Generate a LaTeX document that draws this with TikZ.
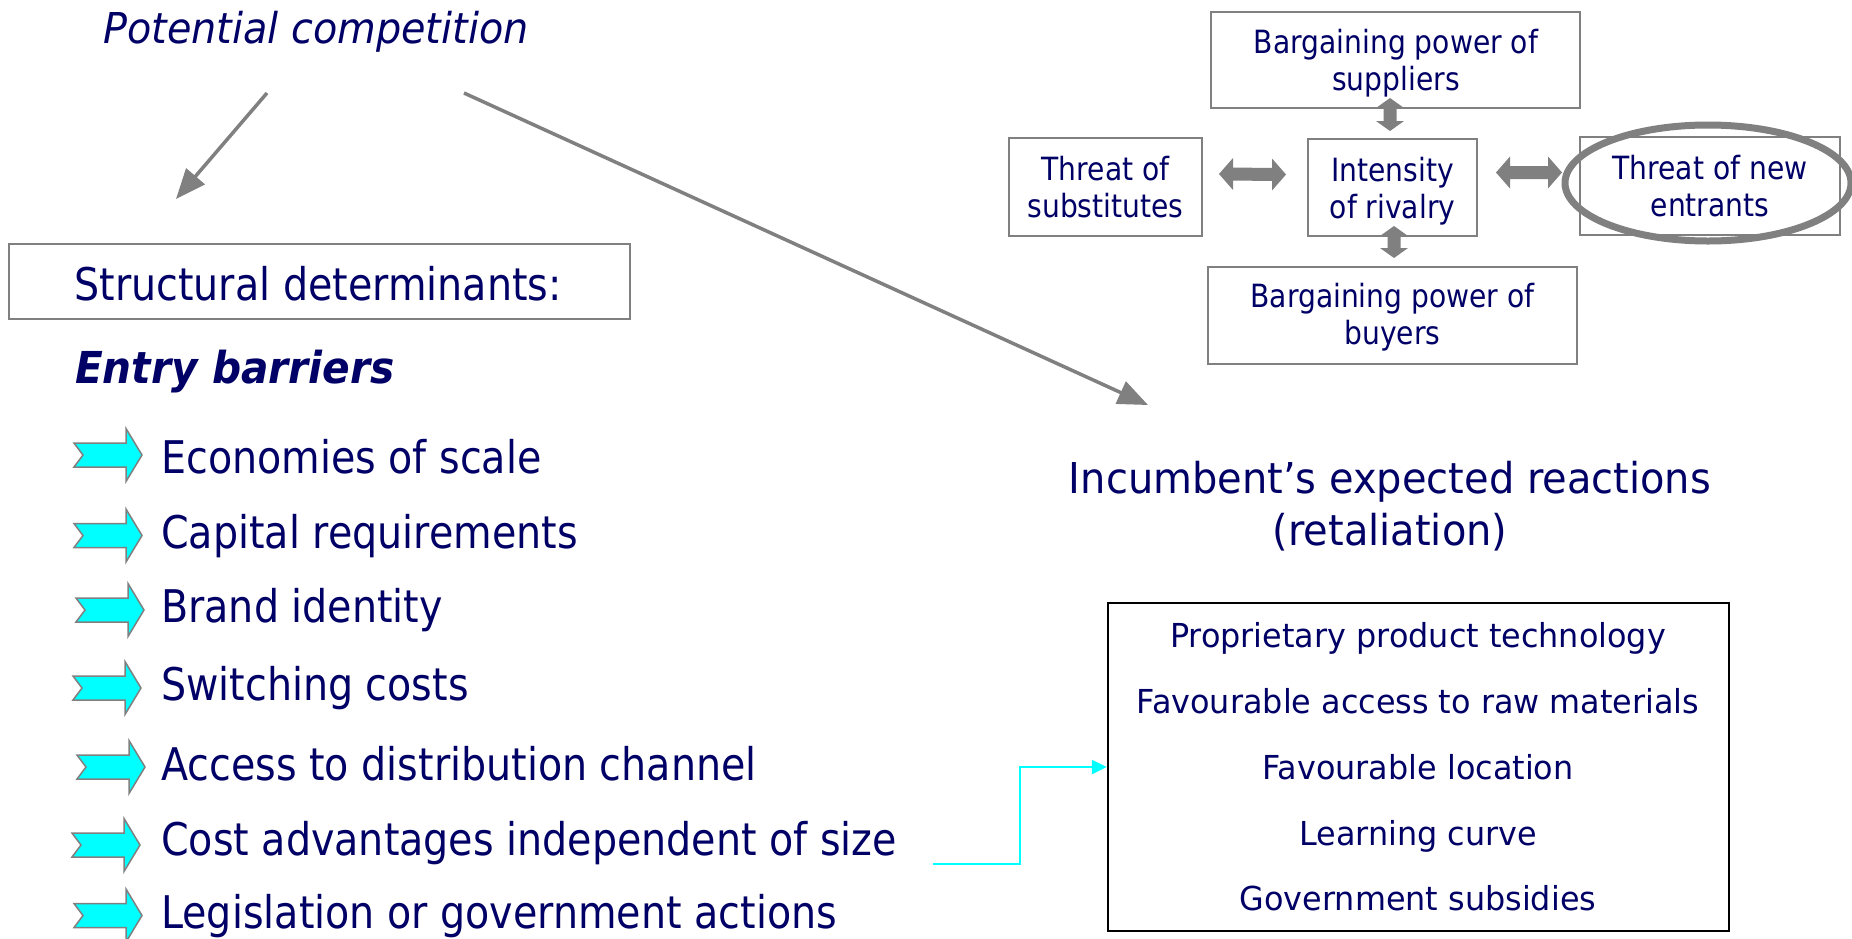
\documentclass[tikz,border=0pt]{standalone}
\usepackage{fontspec}
\setmainfont{DejaVu Sans}[FakeStretch=0.88]
\newfontfamily\titlefont{DejaVu Sans}[FakeStretch=0.935]
\newfontfamily\barrierfont{DejaVu Sans}[FakeStretch=0.925]
\newfontfamily\reactfont{DejaVu Sans}[FakeStretch=0.94]
\newfontfamily\itemfont{DejaVu Sans}[FakeStretch=0.965]
\usetikzlibrary{arrows.meta,calc,shapes.geometric}
\definecolor{navy}{RGB}{0,0,102}
\definecolor{linegray}{RGB}{128,128,128}
\definecolor{aqua}{RGB}{0,255,255}

\newcommand\fsz[2]{\fontsize{#1}{#2}\selectfont}
\newcommand\twolines[2]{\begin{tabular}[t]{@{}c@{}}#1\\#2\end{tabular}}

% filled double-headed block arrows between two tip points
\newcommand\hpair[2]{%
  \fill[linegray] (#1) -- ($(#1)+(14,-16)$) -- ($(#1)+(14,-6.5)$) -- ($(#2)+(-14,-6.5)$)
    -- ($(#2)+(-14,-16)$) -- (#2) -- ($(#2)+(-14,16)$) -- ($(#2)+(-14,6.5)$)
    -- ($(#1)+(14,6.5)$) -- ($(#1)+(14,16)$) -- cycle;}
\newcommand\vpair[2]{%
  \fill[linegray] (#1) -- ($(#1)+(14,10)$) -- ($(#1)+(6.5,10)$) -- ($(#2)+(6.5,-10)$)
    -- ($(#2)+(14,-10)$) -- (#2) -- ($(#2)+(-14,-10)$) -- ($(#2)+(-6.5,-10)$)
    -- ($(#1)+(-6.5,10)$) -- ($(#1)+(-14,10)$) -- cycle;}

\begin{document}
\begin{tikzpicture}[x=1pt,y=-1pt,
  txt/.style={inner sep=0pt, text=navy, anchor=base},
  gbox/.style={draw=linegray, line width=2pt, inner sep=0pt},
  forcetxt/.style={txt, font=\fsz{32}{37}},
  listtxt/.style={txt, anchor=base west, font=\fsz{45}{50}},
  rettxt/.style={txt, font=\itemfont\fsz{33}{38}},
  grayarrow/.style={draw=linegray, line width=3.5pt, -{Triangle[length=30pt,width=24pt]}},
  cyanline/.style={draw=aqua, line width=2.5pt, -{Triangle[length=15pt,width=14pt]}},
  pics/blockarrow/.style={code={
    \draw[draw=linegray, fill=aqua, line width=1.5pt, line join=miter]
      (-34,-12) -- (18,-12) -- (18,-26.5) -- (34,0) -- (18,26.5) -- (18,12)
      -- (-34,12) -- (-25,0) -- cycle;}}
]
\useasboundingbox[fill=white] (0,0) rectangle (1852,938);

% ---- left column ----
\node[txt, anchor=base west, font=\titlefont\fsz{42.5}{48}\itshape] (pc) at (103,43) {Potential competition};
\node[gbox, minimum width=621pt, minimum height=75pt] (sd) at (319.5,281.5) {};
\node[txt, font=\fsz{45}{50}] (sdt) at (318,300) {Structural determinants:};
\node[txt, anchor=base west, font=\barrierfont\fsz{44}{50}\bfseries\itshape] (eb) at (75,383) {Entry barriers};

\coordinate (pcL) at (267,93);
\coordinate (sdIn) at (176,199);
\draw[grayarrow] (pcL) -- (sdIn);

\foreach \cx/\cy/\by/\name/\t in {
  108/455/473/e1/Economies of scale,
  108/535.5/548/e2/Capital requirements,
  110/610/622/e3/Brand identity,
  107/688/700/e4/Switching costs,
  111/767/780/e5/Access to distribution channel,
  106/845/855/e6/Cost advantages independent of size,
  108/915.5/928/e7/Legislation or government actions}{
  \pic at (\cx,\cy) {blockarrow};
  \node[listtxt] (\name) at (161,\by) {\t};
}

% ---- five forces ----
\node[gbox, minimum width=369pt, minimum height=96pt] (sup) at (1395.5,60) {};
\node[gbox, minimum width=193pt, minimum height=98pt] (sub) at (1105.5,187) {};
\node[gbox, minimum width=169pt, minimum height=97pt] (riv) at (1392.5,187.5) {};
\node[gbox, minimum width=260pt, minimum height=98pt] (ent) at (1710,186) {};
\node[gbox, minimum width=369pt, minimum height=97pt] (buy) at (1392.5,315.5) {};

\node[forcetxt] (supt) at (1396,53) {\twolines{Bargaining power of}{suppliers}};
\node[forcetxt] (subt) at (1105.5,180) {\twolines{Threat of}{substitutes}};
\node[forcetxt] (rivt) at (1392.5,181) {\twolines{Intensity}{of rivalry}};
\node[forcetxt] (entt) at (1710,179) {\twolines{Threat of new}{entrants}};
\node[forcetxt] (buyt) at (1392.5,307) {\twolines{Bargaining power of}{buyers}};

\node[ellipse, draw=linegray, line width=7pt, inner sep=0pt,
      minimum width=286pt, minimum height=116pt] (ring) at (1708,183) {};

\coordinate (v1a) at ($(sup.south)+(-5.5,-11)$);
\coordinate (v1b) at ($(riv.north)+(-2.5,-7)$);
\coordinate (v2a) at ($(riv.south)+(1.5,-11)$);
\coordinate (v2b) at ($(buy.north)+(1.5,-8)$);
\coordinate (h1a) at ($(sub.east)+(16,-13)$);
\coordinate (h1b) at ($(riv.west)+(-21,-13)$);
\coordinate (h2a) at ($(riv.east)+(18,-15)$);
\coordinate (h2b) at ($(ent.west)+(-17,-13.5)$);
\vpair{v1a}{v1b}
\vpair{v2a}{v2b}
\hpair{h1a}{h1b}
\hpair{h2a}{h2b}

% ---- retaliation ----
\node[txt, font=\reactfont\fsz{42.5}{52}] (inc) at (1390,493) {\twolines{Incumbent’s expected reactions}{(retaliation)}};
\coordinate (incIn) at (1148,405);
\coordinate (pcR) at (464,93);
\draw[grayarrow] (pcR) -- (incIn);

\node[draw=black, line width=2.5pt, inner sep=0pt, minimum width=621pt, minimum height=328pt] (ret) at (1418.5,767) {};
\node[rettxt] (r1) at (1418,647) {Proprietary product technology};
\node[rettxt] (r2) at (1418,713) {Favourable access to raw materials};
\node[rettxt] (r3) at (1418,779) {Favourable location};
\node[rettxt] (r4) at (1418,845) {Learning curve};
\node[rettxt] (r5) at (1418,910) {Government subsidies};

\coordinate (cs) at (933,864);
\draw[cyanline] (cs) -- (1020,864) |- (ret.west);
\end{tikzpicture}
\end{document}
